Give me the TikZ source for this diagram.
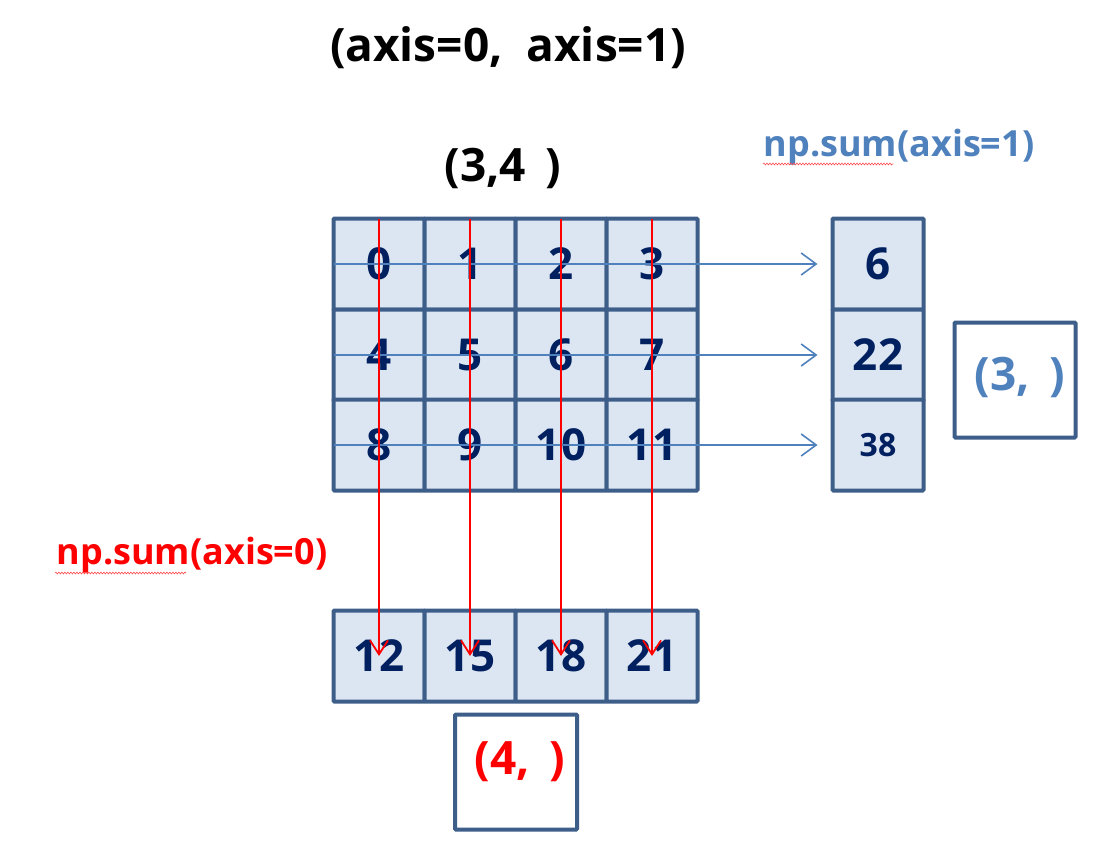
\documentclass[tikz,border=0pt]{standalone}
\usepackage{fontspec}
\setmainfont{Open Sans}
\usepackage{xcolor}
\usetikzlibrary{arrows.meta,decorations.pathmorphing}
\definecolor{cellborder}{RGB}{62,94,138}
\definecolor{cellfill}{RGB}{220,230,242}
\definecolor{numnavy}{RGB}{0,32,96}
\definecolor{axisblue}{RGB}{79,129,189}
\definecolor{axisred}{RGB}{255,0,0}

\begin{document}
\begin{tikzpicture}[x=1pt,y=-1pt,
  cell/.style={draw=cellborder,fill=cellfill,line width=4pt,rounded corners=1pt,
    minimum width=91pt,minimum height=91pt,inner sep=0pt,outer sep=0pt,
    text=numnavy,font=\fontsize{44}{52}\selectfont\bfseries},
  shapebox/.style={draw=cellborder,fill=white,line width=4pt,rounded corners=1pt,
    minimum width=121pt,minimum height=115pt,inner sep=0pt},
  sumzero/.style={axisred,line width=1.8pt,-{Straight Barb[length=14pt,width=18pt,line width=1.8pt]}},
  sumone/.style={axisblue,line width=1.6pt,-{Straight Barb[length=15pt,width=22pt,line width=1.6pt]}},
  spell/.style={axisred!70,line width=0.6pt,decorate,decoration={snake,amplitude=0.9pt,segment length=3pt}}]
  \useasboundingbox (0,0) rectangle (1118,846);
  % titles
  \node[font=\fontsize{46}{54}\selectfont\bfseries] (title) at (508,48) {(axis=0,\ \ axis=1)};
  \node[font=\fontsize{46}{54}\selectfont\bfseries] (shape) at (503,168) {(3,4\ \,)};
  % input array
  \foreach \i/\y in {0/264,1/355,2/445} {
    \foreach \j/\x in {0/379,1/470,2/561,3/652} {
      \pgfmathtruncatemacro{\val}{4*\i+\j}
      \node[cell] (c-\i-\j) at (\x,\y) {\val};
    }
  }
  % sum over axis=1
  \node[cell] (s1-0) at (878,264) {6};
  \node[cell] (s1-1) at (878,355) {22};
  \node[cell,font=\fontsize{32}{38}\selectfont\bfseries] (s1-2) at (878,445) {38};
  % sum over axis=0
  \foreach \j/\x/\val in {0/379/12,1/470/15,2/561/18,3/652/21}
    \node[cell] (s0-\j) at (\x,656) {\val};
  % result shapes
  \node[shapebox] (box1) at (1015,380) {};
  \node[axisblue,font=\fontsize{46}{54}\selectfont\bfseries] (res1) at (1020,377) {(3,\ \,)};
  \node[shapebox,minimum width=122pt] (box0) at (516,772) {};
  \node[axisred,font=\fontsize{46}{54}\selectfont\bfseries] (res0) at (520,762) {(4,\ \,)};
  % labels
  \node[axisblue,font=\fontsize{36}{42}\selectfont\bfseries] (lab1) at (899,147) {np.sum(axis=1)};
  \node[axisred,font=\fontsize{36}{42}\selectfont\bfseries] (lab0) at (192,555) {np.sum(axis=0)};
  \draw[spell] (763,164) -- (893,164);
  \draw[spell] (55,573) -- (186,573);
  % arrows
  \foreach \i in {0,1,2}
    \draw[sumone,shorten >=15pt] (c-\i-0.west) -- (s1-\i.west);
  \foreach \j in {0,1,2,3}
    \draw[sumzero] (c-0-\j.north) -- (s0-\j.center);
\end{tikzpicture}
\end{document}
